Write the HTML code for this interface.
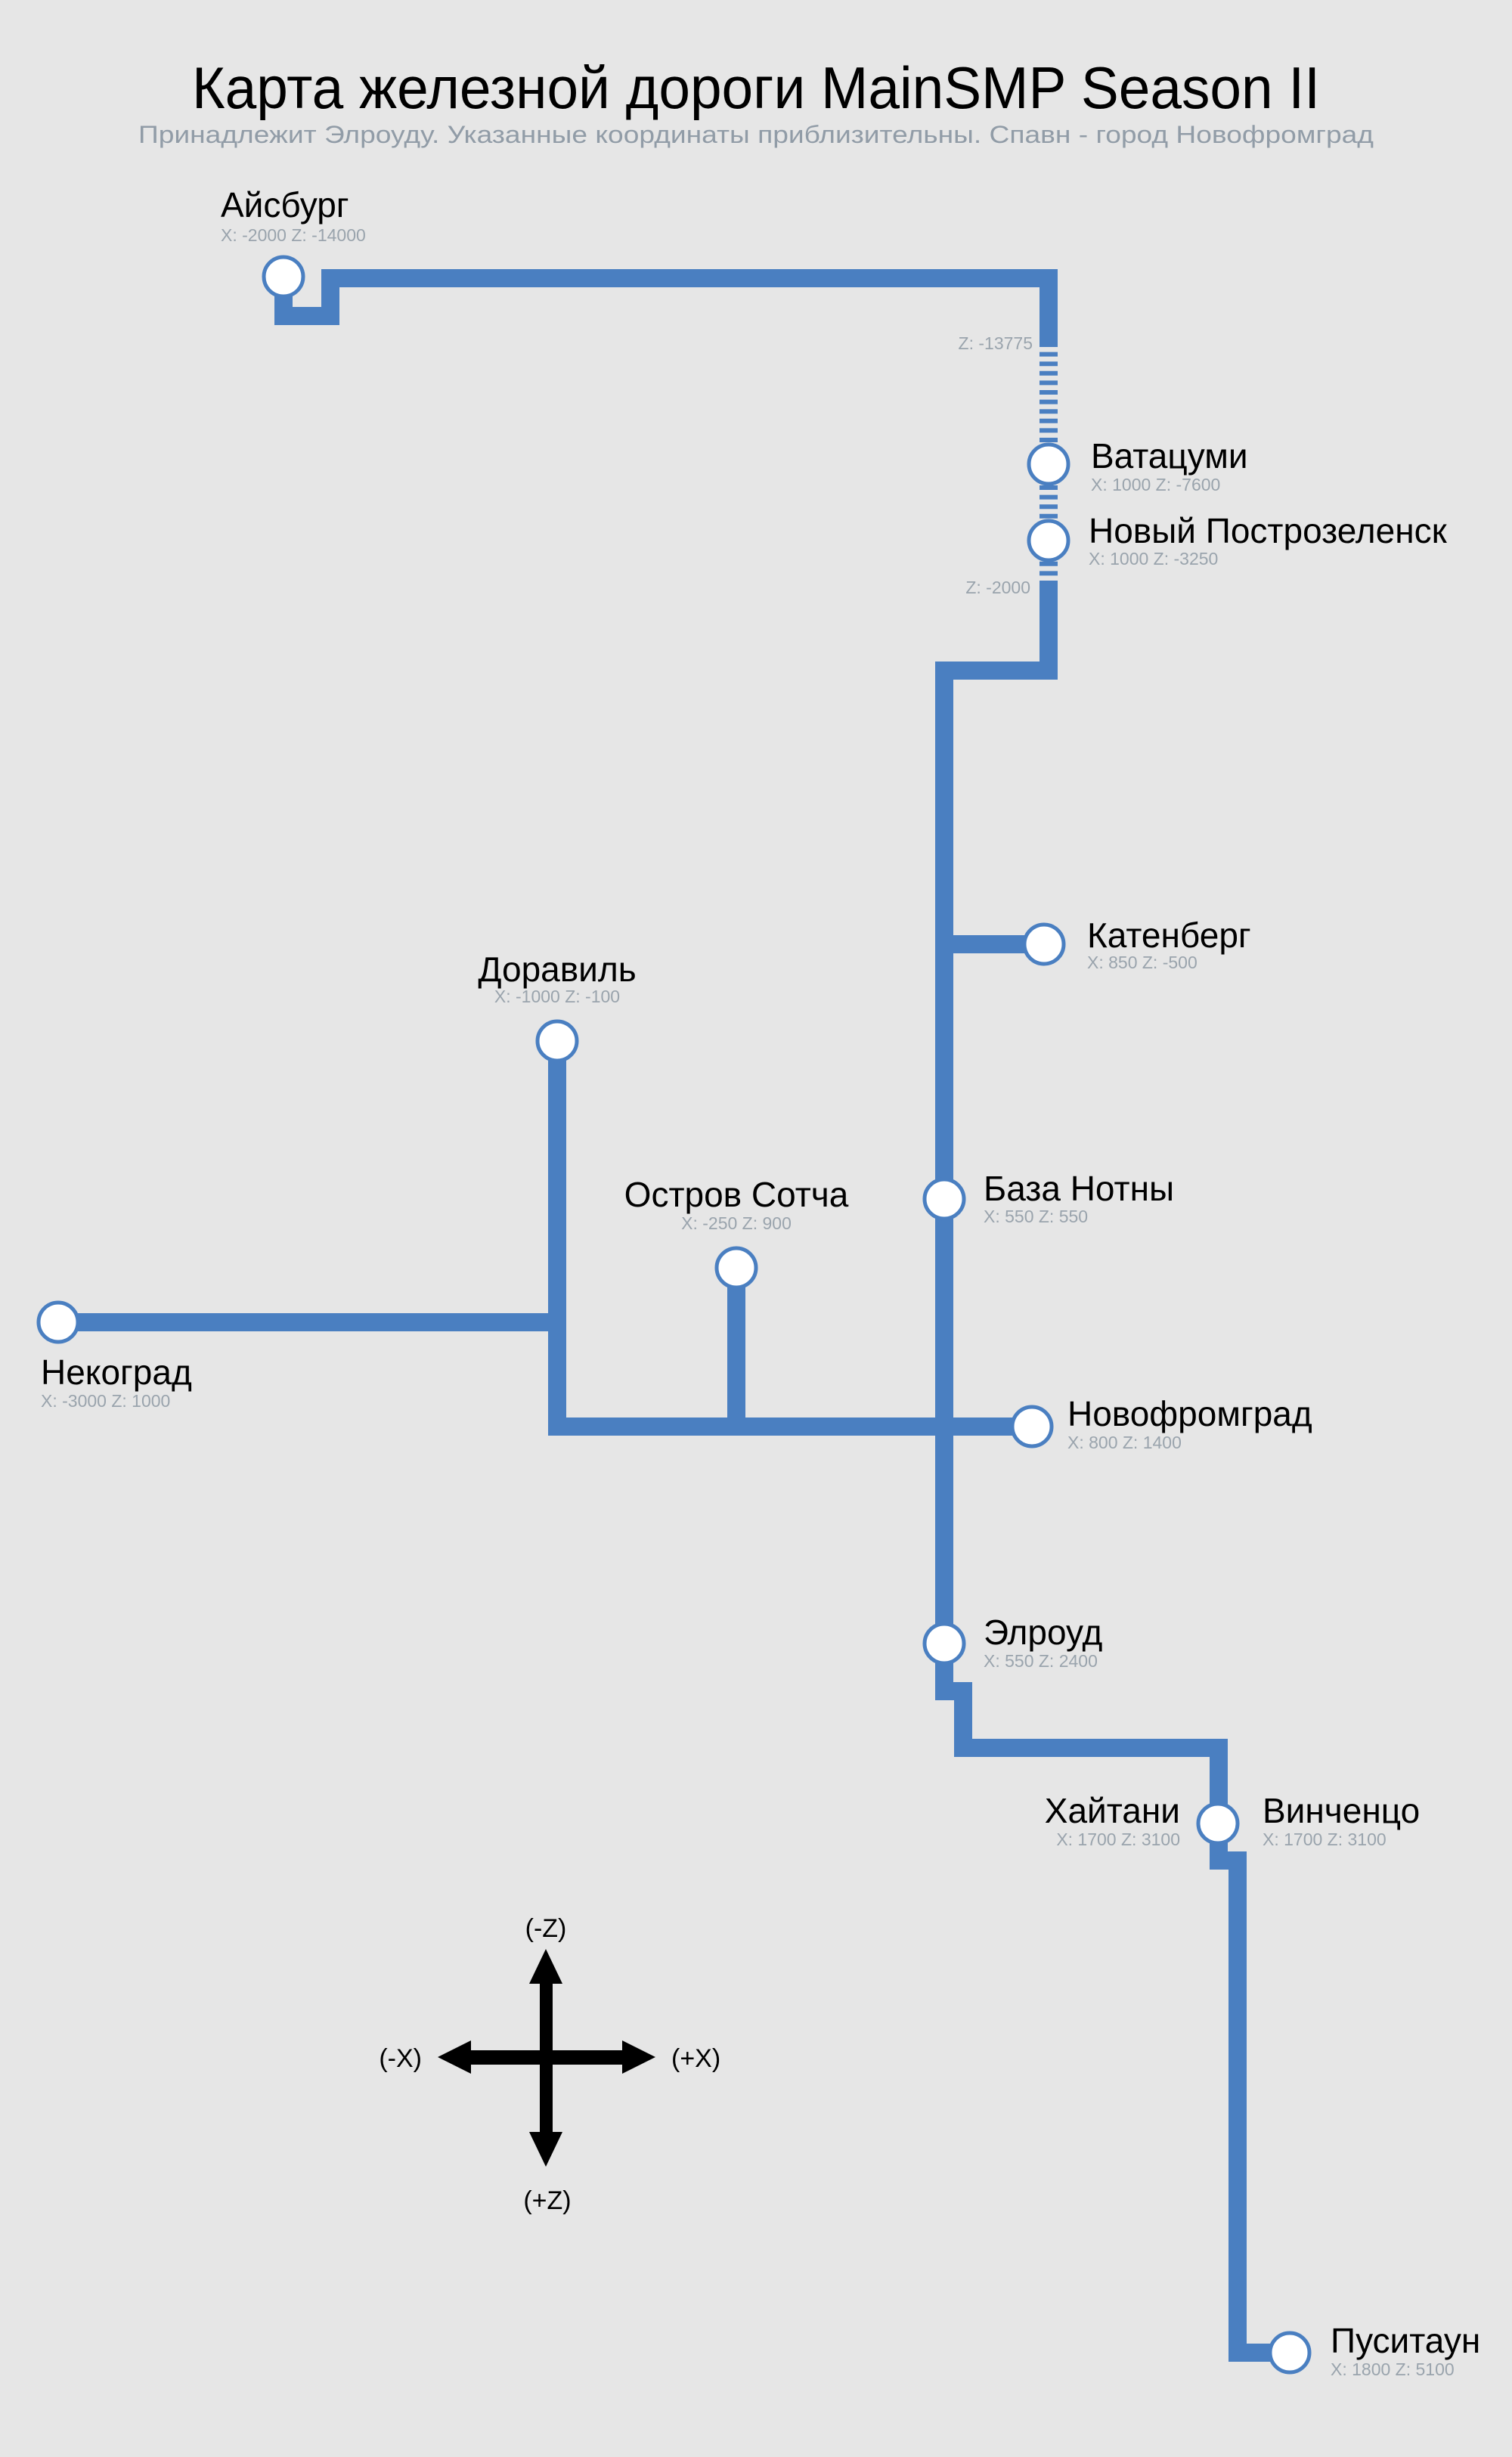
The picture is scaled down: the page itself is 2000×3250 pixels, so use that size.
<!DOCTYPE html>
<html><head><meta charset="utf-8"><style>
html,body{margin:0;padding:0;background:#e6e6e6}
svg{display:block}
text{font-family:"Liberation Sans","DejaVu Sans",sans-serif}
.n{font-size:46px;fill:#000}
.c{font-size:23px;fill:#9aa4ad}
.z{font-size:23px;fill:#9aa4ad}
.a{font-size:34px;fill:#000}
</style></head><body>
<svg width="2000" height="3250" viewBox="0 0 2000 3250" xmlns="http://www.w3.org/2000/svg">
<rect width="2000" height="3250" fill="#e6e6e6"/>
<text x="1000" y="143" text-anchor="middle" font-size="78" textLength="1492" lengthAdjust="spacingAndGlyphs" fill="#000">Карта железной дороги MainSMP Season II</text>
<text x="1000" y="189" text-anchor="middle" font-size="32" textLength="1634" lengthAdjust="spacingAndGlyphs" fill="#919ca7">Принадлежит Элроуду. Указанные координаты приблизительны. Спавн - город Новофромград</text>

<g fill="none" stroke="#4a7fc1" stroke-width="24">
<path d="M375,366 V418 H437 V368 H1387 V453"/>
<path d="M1387,453 V775" stroke-dasharray="6 6.6"/>
<path d="M1387,772 V887 H1249 V2237 H1274 V2312 H1612 V2461 H1637 V3112 H1706"/>
<path d="M1249,1249 H1381"/>
<path d="M737,1377 V1887 H1365"/>
<path d="M77,1749 H737"/>
<path d="M974,1677 V1887"/>
</g>
<g fill="#fff" stroke="#4a7fc1" stroke-width="5">
<circle cx="375" cy="366" r="26"/>
<circle cx="1387" cy="614" r="26"/>
<circle cx="1387" cy="715" r="26"/>
<circle cx="1381" cy="1249" r="26"/>
<circle cx="737" cy="1377" r="26"/>
<circle cx="974" cy="1677" r="26"/>
<circle cx="77" cy="1749" r="26"/>
<circle cx="1249" cy="1586" r="26"/>
<circle cx="1365" cy="1887" r="26"/>
<circle cx="1249" cy="2174" r="26"/>
<circle cx="1611" cy="2412" r="26"/>
<circle cx="1706" cy="3112" r="26"/>
</g>

<text class="z" x="1366" y="462" text-anchor="end">Z: -13775</text>
<text class="z" x="1363" y="785" text-anchor="end">Z: -2000</text>

<text class="n" x="292" y="287">Айсбург</text>
<text class="c" x="292" y="319">X: -2000 Z: -14000</text>
<text class="n" x="1443" y="619">Ватацуми</text>
<text class="c" x="1443" y="649">X: 1000 Z: -7600</text>
<text class="n" x="1440" y="718">Новый Построзеленск</text>
<text class="c" x="1440" y="747">X: 1000 Z: -3250</text>
<text class="n" x="1438" y="1253">Катенберг</text>
<text class="c" x="1438" y="1281">X: 850 Z: -500</text>
<text class="n" x="737" y="1298" text-anchor="middle">Доравиль</text>
<text class="c" x="737" y="1326" text-anchor="middle">X: -1000 Z: -100</text>
<text class="n" x="974" y="1596" text-anchor="middle">Остров Сотча</text>
<text class="c" x="974" y="1626" text-anchor="middle">X: -250 Z: 900</text>
<text class="n" x="1301" y="1588">База Нотны</text>
<text class="c" x="1301" y="1617">X: 550 Z: 550</text>
<text class="n" x="54" y="1831">Некоград</text>
<text class="c" x="54" y="1861">X: -3000 Z: 1000</text>
<text class="n" x="1412" y="1886">Новофромград</text>
<text class="c" x="1412" y="1916">X: 800 Z: 1400</text>
<text class="n" x="1301" y="2175">Элроуд</text>
<text class="c" x="1301" y="2205">X: 550 Z: 2400</text>
<text class="n" x="1561" y="2411" text-anchor="end">Хайтани</text>
<text class="c" x="1561" y="2441" text-anchor="end">X: 1700 Z: 3100</text>
<text class="n" x="1670" y="2411">Винченцо</text>
<text class="c" x="1670" y="2441">X: 1700 Z: 3100</text>
<text class="n" x="1760" y="3112">Пуситаун</text>
<text class="c" x="1760" y="3142">X: 1800 Z: 5100</text>

<g fill="#000">
<rect x="714" y="2615" width="17" height="214"/>
<rect x="615" y="2712" width="215" height="19"/>
<polygon points="722,2578 744,2624 700,2624"/>
<polygon points="722,2866 744,2820 700,2820"/>
<polygon points="579,2721 623,2699 623,2743"/>
<polygon points="867,2721 823,2699 823,2743"/>
</g>
<text class="a" x="722" y="2562" text-anchor="middle">(-Z)</text>
<text class="a" x="724" y="2922" text-anchor="middle">(+Z)</text>
<text class="a" x="558" y="2734" text-anchor="end">(-X)</text>
<text class="a" x="888" y="2734">(+X)</text>
</svg>
</body></html>
